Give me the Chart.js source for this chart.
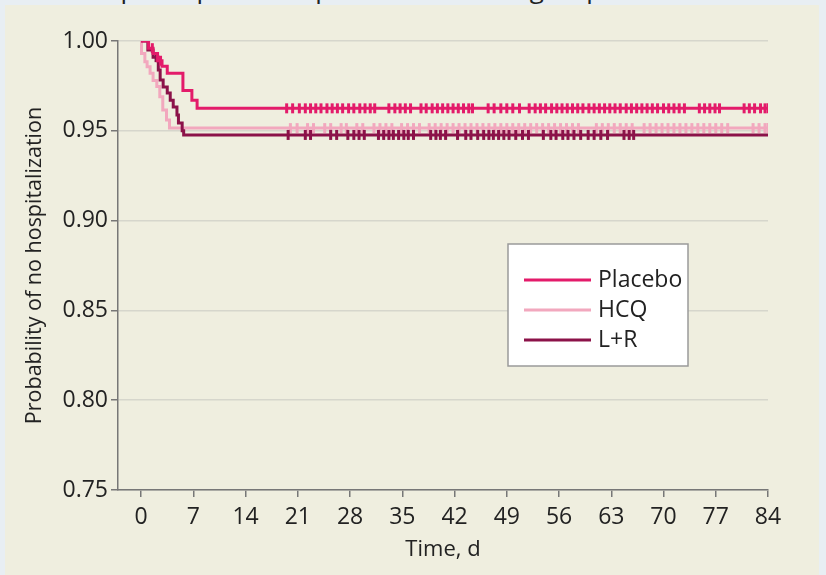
<!DOCTYPE html>
<html>
<head>
<meta charset="utf-8">
<script src="https://cdn.jsdelivr.net/npm/chart.js@4"></script>
<style>
  html, body { margin: 0; padding: 0; }
  body { width: 826px; height: 575px; background: #e8eef3; position: relative; overflow: hidden; font-family: "Open Sans", sans-serif; }
  #caption { position: absolute; left: 30px; top: -30px; font-size: 26px; color: #222; white-space: nowrap; }
  #panel { position: absolute; left: 5px; top: 5px; width: 814px; height: 570px; background: #efeedf; }
  #chart { position: absolute; left: 0; top: 0; }
</style>
</head>
<body>
<div id="caption">11/387 participants hospitalized for each group</div>
<div id="panel"></div>
<canvas id="chart" width="826" height="575"></canvas>
<script>
// ---------------- data ----------------
const seriesNames = ["Placebo", "HCQ", "L+R"];
const xTicks = [0, 7, 14, 21, 28, 35, 42, 49, 56, 63, 70, 77, 84];
const yTicks = [0.75, 0.80, 0.85, 0.90, 0.95, 1.00];

// Kaplan-Meier steps: day of change and survival from that day on
const placeboDays = [0, 1.0, 1.6, 2.2, 2.8, 3.5, 5.6, 6.8, 7.5, 84];
const placeboSurv = [1.0, 0.996, 0.993, 0.989, 0.986, 0.982, 0.9725, 0.967, 0.9625, 0.9625];

const hcqDays = [0, 0.05, 0.5, 0.8, 1.2, 1.6, 2.1, 2.5, 2.9, 3.4, 3.8, 84];
const hcqSurv = [1.0, 0.993, 0.9885, 0.9857, 0.982, 0.978, 0.9746, 0.969, 0.9616, 0.956, 0.9515, 0.9515];

const lrDays = [0, 0.9, 1.6, 2.3, 2.55, 2.95, 3.5, 3.9, 4.3, 4.8, 5.0, 5.5, 5.7, 84];
const lrSurv = [1.0, 0.995, 0.991, 0.9838, 0.9783, 0.9744, 0.971, 0.967, 0.9633, 0.9588, 0.9543, 0.950, 0.9477, 0.9477];

// censoring times (tick marks)
const placeboCensor = [1.5, 2.6, 19.5, 20.3, 21.2, 22.0, 22.7, 23.4, 24.1, 24.9, 25.6, 26.3, 27.0, 27.8, 28.5, 29.3, 30.0, 30.7, 31.3,
  33.2, 34.0, 34.7, 35.4, 36.1, 37.5, 38.2, 39.0, 39.7, 40.4, 41.1, 41.8, 42.5, 43.2, 43.9, 44.4, 46.5, 47.3, 48.2, 49.0, 49.8, 50.7,
  52.0, 52.8, 53.5, 54.2, 55.0, 55.7, 56.4, 57.1, 57.8, 58.5, 59.2, 60.0, 60.7, 61.4, 62.1, 62.8, 63.5, 64.2, 65.0, 65.7, 66.4, 67.1,
  67.8, 68.5, 69.2, 70.0, 70.7, 71.4, 72.1, 72.8, 74.8, 75.5, 76.2, 76.9, 77.5, 80.8, 81.5, 82.2, 83.0, 83.6, 84.0];
const hcqCensor = [20.0, 20.9, 22.3, 23.1, 24.6, 25.4, 26.8, 27.5, 28.9, 29.7, 31.2, 32.0, 32.8, 33.6, 34.9, 35.7, 36.5, 37.3, 38.6,
  39.4, 40.2, 41.0, 41.8, 42.6, 43.4, 44.2, 45.0, 45.8, 46.6, 47.4, 48.2, 49.0, 49.8, 50.6, 51.4, 52.2, 53.0, 53.8, 54.6, 55.4, 56.2,
  57.0, 57.8, 58.6, 61.0, 61.8, 62.6, 63.4, 64.2, 65.0, 65.8, 67.4, 68.2, 69.0, 69.8, 70.6, 71.4, 72.2, 73.0, 73.8, 74.6, 75.4, 76.2,
  77.0, 77.8, 78.6, 82.0, 82.8, 83.6, 84.0];
const lrCensor = [2.0, 19.7, 22.0, 22.7, 25.4, 26.2, 27.7, 28.5, 29.2, 29.9, 31.8, 32.5, 33.2, 33.8, 34.5, 35.2, 35.8, 36.5, 38.8,
  39.5, 40.1, 40.8, 42.4, 43.5, 44.2, 45.1, 45.9, 46.6, 47.2, 47.9, 48.6, 49.3, 50.2, 51.1, 51.9, 53.9, 54.9, 55.6, 56.5, 57.2, 58.0,
  58.9, 59.9, 60.7, 61.6, 62.5, 64.7, 65.4, 66.0];

// ---------------- helpers ----------------
const colors = ["#e31b6a", "#f2a8be", "#8b1249"];

function toPoints(days, surv) {
  return days.map((d, i) => ({ x: d, y: surv[i] }));
}
// survival value at time t (step lookup in the arrays above)
function survAt(days, surv, t) {
  let v = surv[0];
  for (let i = 0; i < days.length; i++) {
    if (days[i] <= t) v = surv[i];
  }
  return v;
}
function censorPoints(days, surv, times) {
  return times.map(t => ({ x: t, y: survAt(days, surv, t) }));
}

const curves = [
  [placeboDays, placeboSurv, placeboCensor],
  [hcqDays, hcqSurv, hcqCensor],
  [lrDays, lrSurv, lrCensor]
];
const drawOrder = [1, 3, 2]; // placebo on top, then L+R, then HCQ

const datasets = [];
curves.forEach((c, i) => {
  datasets.push({
    label: seriesNames[i],
    data: toPoints(c[0], c[1]),
    borderColor: colors[i],
    borderWidth: 3,
    stepped: "before",
    pointRadius: 0,
    fill: false,
    order: drawOrder[i],
    isCurve: true
  });
  datasets.push({
    label: seriesNames[i] + " censored",
    data: censorPoints(c[0], c[1], c[2]),
    showLine: false,
    pointStyle: "line",
    rotation: 90,
    pointRadius: 5,
    pointBorderWidth: 3,
    pointBorderColor: colors[i],
    borderColor: colors[i],
    order: drawOrder[i]
  });
});

// legend box inside the plot
const boxLegend = {
  id: "boxLegend",
  afterDraw(chart) {
    const ctx = chart.ctx;
    const ca = chart.chartArea;
    const x0 = ca.left + 390, y0 = ca.top + 203, w = 180, h = 122;
    ctx.save();
    ctx.fillStyle = "#ffffff";
    ctx.fillRect(x0, y0, w, h);
    ctx.strokeStyle = "#9a9a9a";
    ctx.lineWidth = 1.5;
    ctx.strokeRect(x0, y0, w, h);
    ctx.font = "23px 'Open Sans', sans-serif";
    ctx.textBaseline = "middle";
    chart.data.datasets.filter(d => d.isCurve).forEach((d, i) => {
      const yy = y0 + 36 + i * 30;
      ctx.strokeStyle = d.borderColor;
      ctx.lineWidth = 3;
      ctx.beginPath();
      ctx.moveTo(x0 + 16, yy);
      ctx.lineTo(x0 + 83, yy);
      ctx.stroke();
      ctx.fillStyle = "#222";
      ctx.fillText(d.label, x0 + 90, yy);
    });
    ctx.restore();
  }
};

const tickFont = { family: "'Open Sans', sans-serif", size: 23 };

new Chart(document.getElementById("chart"), {
  type: "line",
  data: { datasets: datasets },
  options: {
    responsive: false,
    animation: false,
    layout: { padding: { top: 41, right: 58, left: 6, bottom: 0 } },
    plugins: { legend: { display: false }, tooltip: { enabled: false } },
    scales: {
      x: {
        type: "linear",
        min: -3.1,
        max: 84,
        afterBuildTicks: (scale) => { scale.ticks = xTicks.map(v => ({ value: v })); },
        afterFit: (scale) => { scale.height = 85; },
        ticks: { color: "#222", font: tickFont, padding: 7, maxRotation: 0, autoSkip: false },
        grid: { display: true, drawOnChartArea: false, drawTicks: true, tickLength: 7, color: "#777", lineWidth: 1.5 },
        border: { display: true, color: "#777", width: 1.5 },
        title: { display: true, text: "Time, d", color: "#222", font: { family: "'Open Sans', sans-serif", size: 22 }, padding: { top: 0, bottom: 12 } }
      },
      y: {
        min: 0.75,
        max: 1.0,
        afterBuildTicks: (scale) => { scale.ticks = yTicks.map(v => ({ value: v })); },
        afterFit: (scale) => { scale.width = 112; },
        ticks: { color: "#222", font: tickFont, padding: 3, callback: (v) => Number(v).toFixed(2) },
        grid: { color: "#d6d6cc", lineWidth: 1.5, tickLength: 7, tickColor: "#777" },
        border: { display: true, color: "#777", width: 1.5 },
        title: { display: true, text: "Probability of no hospitalization", color: "#222", font: { family: "'Open Sans', sans-serif", size: 21.5 }, padding: { top: 16, bottom: 0 } }
      }
    }
  },
  plugins: [boxLegend]
});
</script>
</body>
</html>
